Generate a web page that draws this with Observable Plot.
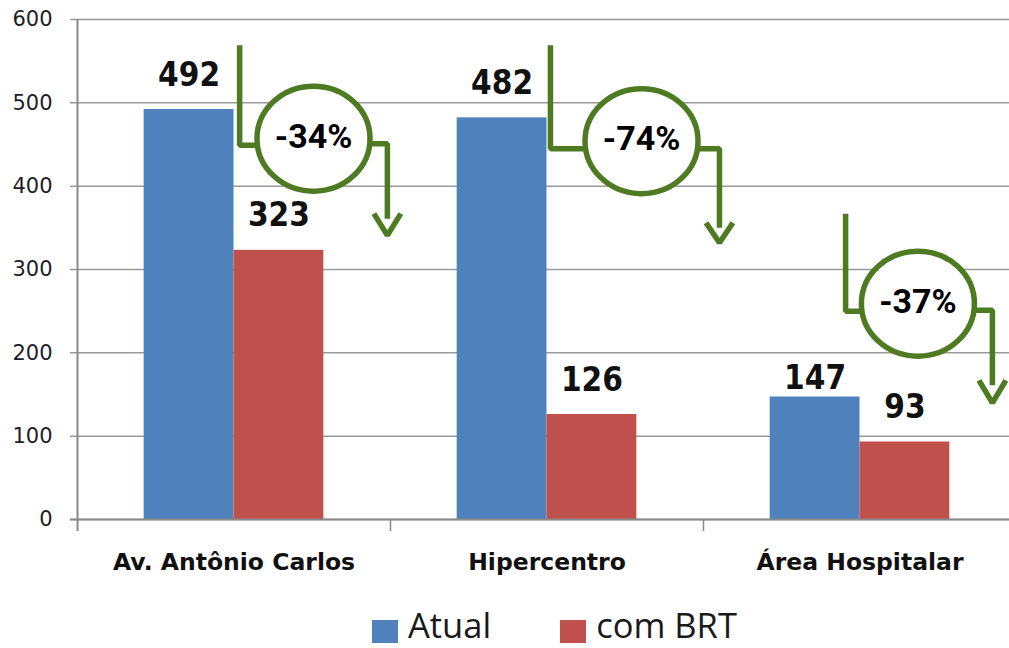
<!DOCTYPE html>
<html><head><meta charset="utf-8">
<script src="https://cdn.jsdelivr.net/npm/d3@7"></script>
<script src="https://cdn.jsdelivr.net/npm/@observablehq/plot@0.6"></script>
<style>
html,body{margin:0;padding:0;background:#fff;}
#chart svg{display:block;}
div.lg-swatches.lg-swatches-wrap{font-family:"Open Sans",sans-serif;font-size:34.5px;line-height:1;color:#1a1a1a;margin:3px 0 0 372px;min-height:0;}
div.lg-swatches span.lg-swatch{margin-right:69px;}
div.lg-swatches span.lg-swatch > svg{margin-right:10px;position:relative;top:8px;}
</style></head><body><div id="chart"></div>
<script>
// ---- data ----
const categories = ["Av. Antônio Carlos", "Hipercentro", "Área Hospitalar"];
const seriesNames = ["Atual", "com BRT"];
const atual = [492, 482, 147];
const comBRT = [323, 126, 93];
const changeLabels = ["-34%", "-74%", "-37%"];
const yTicks = [0, 100, 200, 300, 400, 500, 600];
const seriesColors = ["#4F81BD", "#C0504D"];

// ---- callout layout (in data units: x = category index space, y = value space) ----
const calloutLayout = [
  {stem: 0.518, top: 569, elbowL: 449, cx: 0.754, cy: 457, elbowR: 451, drop: 0.990, dropEnd: 361, armY: 367, tip: 341},
  {stem: 1.511, top: 569, elbowL: 445, cx: 1.802, cy: 454, elbowR: 445, drop: 2.051, dropEnd: 350, armY: 356, tip: 332},
  {stem: 2.454, top: 367, elbowL: 250, cx: 2.685, cy: 259, elbowR: 251, drop: 2.923, dropEnd: 161, armY: 167, tip: 140}
];
const armW = 0.043;
const barW = 0.287;
const green = "#4E7B22";

const rows = categories.flatMap((cat, i) => [
  {cat, i, series: seriesNames[0], value: atual[i]},
  {cat, i, series: seriesNames[1], value: comBRT[i]}
]);
const bx1 = d => d.i + 0.5 + (d.series === seriesNames[0] ? -barW : 0);
const bx2 = d => bx1(d) + barW;
const bxc = d => bx1(d) + barW / 2;

const calloutPaths = calloutLayout.flatMap((c, k) => [
  {id: "L" + k, x: c.stem, y: c.top}, {id: "L" + k, x: c.stem, y: c.elbowL}, {id: "L" + k, x: c.cx, y: c.elbowL},
  {id: "R" + k, x: c.cx, y: c.elbowR}, {id: "R" + k, x: c.drop, y: c.elbowR}, {id: "R" + k, x: c.drop, y: c.dropEnd},
  {id: "H" + k, x: c.drop - armW, y: c.armY}, {id: "H" + k, x: c.drop, y: c.tip}, {id: "H" + k, x: c.drop + armW, y: c.armY}
]);

const ellipseSymbol = {
  draw(ctx, size) {
    const r = Math.sqrt(size / Math.PI), rx = r * 1.037, ry = r * 0.963, k = 0.5523;
    ctx.moveTo(rx, 0);
    ctx.bezierCurveTo(rx, ry * k, rx * k, ry, 0, ry);
    ctx.bezierCurveTo(-rx * k, ry, -rx, ry * k, -rx, 0);
    ctx.bezierCurveTo(-rx, -ry * k, -rx * k, -ry, 0, -ry);
    ctx.bezierCurveTo(rx * k, -ry, rx, -ry * k, rx, 0);
    ctx.closePath();
  }
};

const isShifted = d => d.i === 2 && d.series === seriesNames[0];

const plot = Plot.plot({
  width: 1009,
  height: 605,
  marginLeft: 77,
  marginRight: 0,
  marginTop: 19,
  marginBottom: 86,
  x: {domain: [0, 3], range: [77, 1016], axis: null},
  y: {domain: [0, 600], range: [519, 19], axis: null},
  color: {domain: seriesNames, range: seriesColors},
  style: {background: "#fff", overflow: "hidden"},
  marks: [
    Plot.ruleY(yTicks, {stroke: "#9a9a9a", strokeWidth: 1.5, insetLeft: -7}),
    Plot.rect(rows, {x1: bx1, x2: bx2, y1: 0, y2: "value", fill: "series"}),
    Plot.ruleY([0], {stroke: "#8a8a8a", strokeWidth: 2, insetLeft: -7}),
    Plot.ruleX([0], {y1: 600, y2: 0, insetBottom: -12, stroke: "#8a8a8a", strokeWidth: 2}),
    Plot.ruleX([1, 2, 3], {y1: 0, y2: 0, insetBottom: -12, stroke: "#8a8a8a", strokeWidth: 1.5}),
    Plot.text(yTicks, {x: 0, y: d => d, text: d => String(d), textAnchor: "end", dx: -25,
      fontFamily: "DejaVu Sans", fontSize: 21, fill: "#1e1e28"}),
    Plot.text(categories, {x: (d, i) => i + 0.5, y: 0, text: d => d, dy: 42.5,
      fontFamily: "DejaVu Sans", fontWeight: "bold", fontSize: 23.5, fill: "#111"}),
    Plot.text(rows, {filter: d => !isShifted(d), x: bxc, y: "value", text: d => String(d.value), dy: -34.5,
      fontFamily: "DejaVu Sans Condensed", fontWeight: "bold", fontSize: 33, fill: "#111"}),
    Plot.text(rows, {filter: isShifted, x: bxc, y: "value", text: d => String(d.value), dy: -19,
      fontFamily: "DejaVu Sans Condensed", fontWeight: "bold", fontSize: 33, fill: "#111"}),
    Plot.line(calloutPaths, {x: "x", y: "y", z: "id", stroke: green, strokeWidth: 5.5,
      strokeLinejoin: "miter", strokeLinecap: "butt", curve: "linear"}),
    Plot.dot(calloutLayout, {x: "cx", y: "cy", r: 54.5, symbol: ellipseSymbol, fill: "#fff", stroke: green, strokeWidth: 5.5}),
    Plot.text(calloutLayout, {x: "cx", y: "cy", text: (d, i) => changeLabels[i], dy: -2,
      fontFamily: "Roboto", fontWeight: "bold", fontSize: 34, fill: "#000"})
  ]
});
const chart = document.getElementById("chart");
chart.appendChild(plot);
const legend = plot.legend("color", {className: "lg", swatchSize: 26});
chart.appendChild(legend);
</script>
</body></html>
